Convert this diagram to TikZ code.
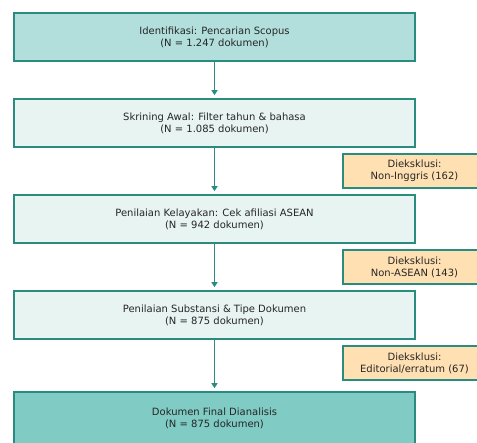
\documentclass[tikz,border=0pt]{standalone}
\usepackage{fontspec}
\setmainfont{DejaVu Sans}
\usepackage{xcolor}
\usetikzlibrary{arrows.meta}

\definecolor{tealline}{HTML}{2A8C80}
\definecolor{tealtop}{HTML}{B2DFDB}
\definecolor{tealpale}{HTML}{E8F4F2}
\definecolor{tealdeep}{HTML}{80CBC4}
\definecolor{orangepale}{HTML}{FFE0B2}

\begin{document}
\begin{tikzpicture}[
  x=1pt, y=-1pt,
  font=\fontsize{10}{12}\selectfont,
  block/.style={rectangle, draw=tealline, line width=1.6pt, minimum width=401pt, minimum height=48pt, align=center, text=black!85},
  excl/.style={rectangle, draw=tealline, line width=1.6pt, fill=orangepale, minimum width=143pt, minimum height=34pt, align=center, text=black!85},
  arrow/.style={-{Triangle[width=6pt,length=5pt]}, draw=tealline, line width=1.6pt, shorten >=3pt}
]
\useasboundingbox (0,0) rectangle (477,443);

% Identification
\node[block, fill=tealtop] (ident) at (214.5,37) {Identifikasi: Pencarian Scopus\\(N = 1.247 dokumen)};

% Screening
\node[block, fill=tealpale] (screen) at (214.5,123) {Skrining Awal: Filter tahun \& bahasa\\(N = 1.085 dokumen)};

% Eligibility
\node[block, fill=tealpale] (elig) at (214.5,219) {Penilaian Kelayakan: Cek afiliasi ASEAN\\(N = 942 dokumen)};

% Substance
\node[block, fill=tealpale] (subst) at (214.5,315) {Penilaian Substansi \& Tipe Dokumen\\(N = 875 dokumen)};

% Final
\node[block, fill=tealdeep, minimum height=52pt] (final) at (214.5,418) {Dokumen Final Dianalisis\\(N = 875 dokumen)};

% Exclusions
\node[excl] (exlang) at (414.5,171) {Dieksklusi:\\Non-Inggris (162)};
\node[excl] (exasean) at (414.5,267) {Dieksklusi:\\Non-ASEAN (143)};
\node[excl] (exedit) at (414.5,363) {Dieksklusi:\\Editorial/erratum (67)};

% Arrows
\draw[arrow] (ident) -- (screen);
\draw[arrow] (screen) -- (elig);
\draw[arrow] (elig) -- (subst);
\draw[arrow] (subst) -- (final);

\end{tikzpicture}
\end{document}
